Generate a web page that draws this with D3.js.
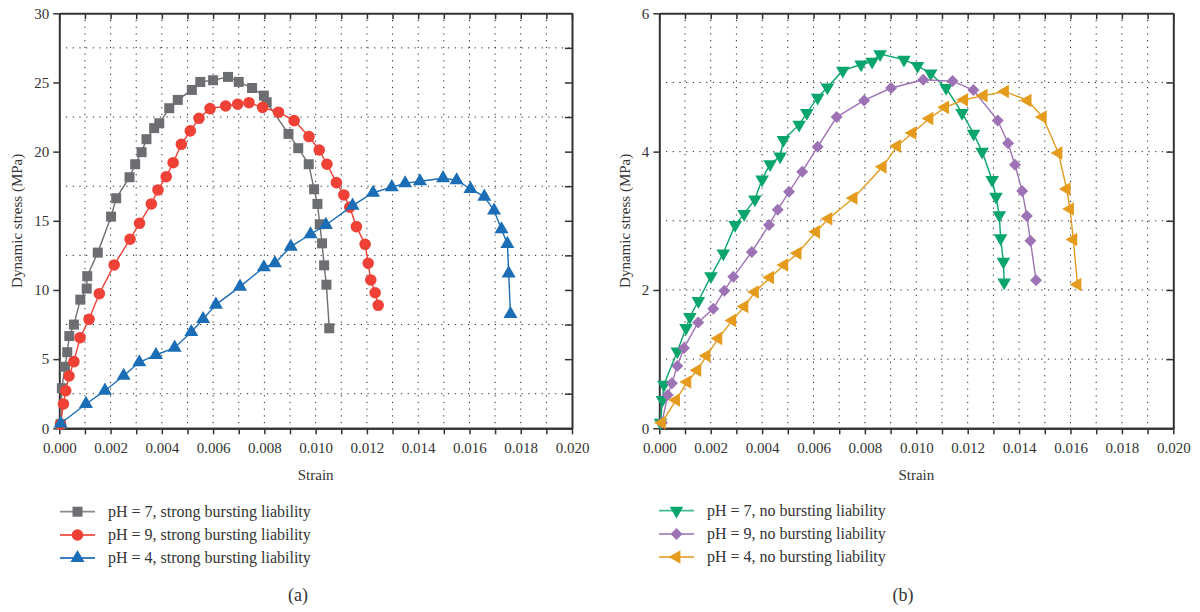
<!DOCTYPE html>
<html><head><meta charset="utf-8">
<script src="https://cdn.jsdelivr.net/npm/d3@7"></script>
<style>
body{margin:0;background:#fff;}
text{font-family:"Liberation Serif","DejaVu Serif",serif;fill:#333;}
</style></head>
<body><svg id="c" width="1200" height="612"></svg>
<script>
// ---- Data: panel (a) strong bursting liability ----
const aPH7Strain = [0.00005,0.0001,0.00022,0.00031,0.00039,0.00057,0.00082,0.00107,0.00109,0.0015,0.00202,0.00222,0.00274,0.00296,0.00321,0.0034,0.0037,0.0039,0.00429,0.00462,0.00517,0.0055,0.006,0.00658,0.007,0.00752,0.00798,0.00809,0.00894,0.00932,0.00973,0.00994,0.01007,0.01016,0.01025,0.01033,0.01042,0.01053];
const aPH7Stress = [0.3,2.9,4.45,5.5,6.67,7.5,9.3,10.1,11.0,12.7,15.3,16.63,18.15,19.09,19.96,20.9,21.7,22.05,23.14,23.74,24.46,25.04,25.16,25.4,25.04,24.6,24.05,23.57,21.28,20.25,19.09,17.28,16.22,14.75,13.37,11.78,10.38,7.23];
const aPH9Strain = [0.00005,0.00016,0.00025,0.00038,0.00057,0.00081,0.00116,0.00156,0.00214,0.00276,0.00313,0.00359,0.00385,0.00417,0.00444,0.00476,0.00511,0.00545,0.00588,0.00649,0.00696,0.0074,0.00793,0.00855,0.00916,0.00974,0.01014,0.01044,0.01081,0.0111,0.01133,0.01159,0.01193,0.01205,0.01215,0.01232,0.01244];
const aPH9Stress = [0.3,1.76,2.72,3.78,4.82,6.55,7.88,9.73,11.81,13.67,14.82,16.22,17.23,18.19,19.2,20.53,21.5,22.41,23.11,23.3,23.43,23.54,23.2,22.85,22.24,21.09,20.12,19.09,17.76,16.87,15.98,14.58,13.3,11.93,10.72,9.8,8.89];
const aPH4Strain = [0.00005,0.00104,0.00178,0.00251,0.00312,0.00377,0.0045,0.00515,0.00561,0.00611,0.00705,0.00798,0.00841,0.00903,0.0098,0.0104,0.01144,0.01224,0.01297,0.01349,0.01407,0.01497,0.0155,0.01604,0.01658,0.01696,0.01725,0.01748,0.01753,0.0176];
const aPH4Stress = [0.35,1.76,2.72,3.8,4.77,5.3,5.83,6.96,7.9,8.94,10.24,11.64,11.93,13.13,14.03,14.7,16.1,17.03,17.43,17.71,17.86,18.08,17.93,17.3,16.75,15.74,14.39,13.33,11.2,8.26];
// ---- Data: panel (b) no bursting liability ----
const bPH7Strain = [0.00005,0.00012,0.00018,0.0007,0.00104,0.00119,0.00152,0.00201,0.00249,0.00295,0.0033,0.00372,0.004,0.00431,0.0047,0.00483,0.00544,0.00574,0.00616,0.00654,0.00714,0.00785,0.00828,0.00859,0.00952,0.01005,0.01056,0.01116,0.01178,0.01223,0.01256,0.01295,0.0131,0.01323,0.01328,0.01339,0.01342];
const bPH7Stress = [0.08,0.41,0.63,1.11,1.45,1.61,1.84,2.2,2.53,2.94,3.1,3.31,3.6,3.82,3.93,4.17,4.39,4.56,4.78,4.93,5.17,5.26,5.3,5.41,5.33,5.24,5.13,4.92,4.56,4.26,4.0,3.59,3.35,3.08,2.75,2.41,2.11];
const bPH9Strain = [0.0001,0.00033,0.00049,0.0007,0.00096,0.00151,0.0021,0.00253,0.00288,0.0036,0.00427,0.00461,0.00505,0.00556,0.00616,0.0069,0.00797,0.00902,0.01027,0.01141,0.01222,0.01317,0.01357,0.01384,0.01412,0.0143,0.01444,0.01466];
const bPH9Stress = [0.08,0.48,0.65,0.9,1.16,1.53,1.73,1.99,2.19,2.55,2.94,3.16,3.42,3.71,4.07,4.5,4.74,4.92,5.04,5.02,4.89,4.45,4.12,3.81,3.43,3.07,2.71,2.14];
const bPH4Strain = [0.0001,0.00065,0.00109,0.00148,0.00184,0.0023,0.00284,0.00331,0.00372,0.00431,0.00486,0.00538,0.0061,0.00658,0.00756,0.00869,0.00925,0.00985,0.01051,0.01112,0.01186,0.01262,0.01345,0.01433,0.01492,0.01553,0.01585,0.01598,0.01611,0.01627];
const bPH4Stress = [0.08,0.41,0.67,0.84,1.05,1.3,1.56,1.76,1.97,2.18,2.36,2.53,2.84,3.03,3.33,3.78,4.08,4.27,4.48,4.64,4.75,4.81,4.87,4.74,4.5,3.98,3.46,3.17,2.73,2.08];

const xTickLabels = ["0.000","0.002","0.004","0.006","0.008","0.010","0.012","0.014","0.016","0.018","0.020"];
const aYTicks = [0,5,10,15,20,25,30];
const bYTicks = [0,2,4,6];
const aNames = ["pH = 7, strong bursting liability","pH = 9, strong bursting liability","pH = 4, strong bursting liability"];
const bNames = ["pH = 7, no bursting liability","pH = 9, no bursting liability","pH = 4, no bursting liability"];

const svg = d3.select("#c");
const AX = "#333";

function makeSym(kind){
  if(kind==="square") return {path:d3.symbol(d3.symbolSquare,100)(), rot:0};
  if(kind==="circle") return {path:d3.symbol(d3.symbolCircle,105)(), rot:0};
  if(kind==="up") return {path:d3.symbol(d3.symbolTriangle,85)(), rot:0};
  if(kind==="down") return {path:d3.symbol(d3.symbolTriangle,80)(), rot:180};
  if(kind==="left") return {path:d3.symbol(d3.symbolTriangle,80)(), rot:-90};
  if(kind==="diamond") return {path:d3.symbol(d3.symbolSquare,72)(), rot:45};
}

function panel(cfg){
  const {x0,x1,y0,y1,ymax,yTicks,gridY,rightTicks,series,names,label,labelX,legX,legY} = cfg;
  const x = d3.scaleLinear().domain([0,0.02]).range([x0,x1]);
  const y = d3.scaleLinear().domain([0,ymax]).range([y1,y0]);
  const g = svg.append("g");
  const minor = d3.range(1,20).map(i=>i*0.001);
  // grid
  g.selectAll(".vg").data(minor).enter().append("line")
    .attr("x1",d=>x(d)).attr("x2",d=>x(d)).attr("y1",y0).attr("y2",y1)
    .attr("stroke","#222").attr("stroke-width",1).attr("stroke-dasharray","1.2,5.5");
  g.selectAll(".hg").data(gridY).enter().append("line")
    .attr("x1",x0).attr("x2",x1).attr("y1",d=>y(d)).attr("y2",d=>y(d))
    .attr("stroke","#222").attr("stroke-width",1).attr("stroke-dasharray","1.2,5.5");
  // axes
  const bottom = g.append("g").attr("transform",`translate(0,${y1})`)
    .call(d3.axisBottom(x).tickValues(xTickLabels.map(Number)).tickFormat((d,i)=>xTickLabels[i]).tickSize(0).tickPadding(14));
  const bottomMinor = g.append("g").attr("transform",`translate(0,${y1})`)
    .call(d3.axisBottom(x).tickValues(d3.range(0,21).map(i=>i*0.001)).tickFormat("").tickSizeInner(6).tickSizeOuter(0));
  const top = g.append("g").attr("transform",`translate(0,${y0})`)
    .call(d3.axisBottom(x).tickValues(d3.range(0,21).map(i=>i*0.001)).tickFormat("").tickSizeInner(6).tickSizeOuter(0));
  const left = g.append("g").attr("transform",`translate(${x0},0)`)
    .call(d3.axisLeft(y).tickValues(yTicks).tickFormat(d3.format("d")).tickSizeInner(6).tickSizeOuter(0).tickPadding(4));
  const right = g.append("g").attr("transform",`translate(${x1},0)`)
    .call(d3.axisLeft(y).tickValues(rightTicks).tickFormat("").tickSizeInner(7).tickSizeOuter(0));
  [bottom,bottomMinor,top,left,right].forEach(a=>{
    a.select(".domain").attr("stroke",AX).attr("stroke-width",2);
    a.selectAll(".tick line").attr("stroke",AX).attr("stroke-width",1.5);
    a.selectAll("text").attr("font-size",15).attr("fill","#333").style("font-family","'Liberation Serif',serif");
  });
  // axis titles
  g.append("text").attr("x",(x0+x1)/2).attr("y",y1+52).attr("text-anchor","middle").attr("font-size",15).text("Strain");
  g.append("text").attr("transform",`translate(${labelX},${(y0+y1)/2}) rotate(-90)`).attr("text-anchor","middle").attr("dy","0.35em").attr("font-size",15).text("Dynamic stress (MPa)");
  // series
  const line = d3.line().x(d=>x(d[0])).y(d=>y(d[1]));
  series.forEach(s=>{
    const pts = s.sx.map((v,i)=>[v,s.sy[i]]);
    g.append("path").datum(pts).attr("d",line).attr("fill","none").attr("stroke",s.color).attr("stroke-width",1.4);
    const sym = makeSym(s.kind);
    g.selectAll(null).data(pts).enter().append("path").attr("d",sym.path)
      .attr("transform",d=>`translate(${x(d[0])},${y(d[1])}) rotate(${sym.rot})`)
      .attr("fill",s.color);
  });
  // legend
  series.forEach((s,i)=>{
    const ly = legY[i];
    g.append("line").attr("x1",legX).attr("x2",legX+35).attr("y1",ly).attr("y2",ly).attr("stroke",s.lcolor).attr("stroke-width",1.8);
    const sym = makeSym(s.kind);
    g.append("path").attr("d",sym.path).attr("transform",`translate(${legX+17.5},${ly}) rotate(${sym.rot})`).attr("fill",s.color);
    g.append("text").attr("x",legX+48).attr("y",ly).attr("dy","0.33em").attr("font-size",16).text(names[i]);
  });
  g.append("text").attr("x",cfg.capX).attr("y",601).attr("text-anchor","middle").attr("font-size",18).text(label);
}

panel({x0:59.3,x1:572,y0:13.3,y1:428.3,ymax:30,yTicks:aYTicks,gridY:[2.5,7.5,12.5,17.5,22.5,27.5],
  rightTicks:d3.range(1,12).map(i=>i*2.5),labelX:17,legX:60,legY:[511.7,535,558],capX:298,label:"(a)",
  names:aNames,
  series:[
    {sx:aPH7Strain,sy:aPH7Stress,color:"#6d6e71",lcolor:"#8a8b8d",kind:"square"},
    {sx:aPH9Strain,sy:aPH9Stress,color:"#ef4136",lcolor:"#f06158",kind:"circle"},
    {sx:aPH4Strain,sy:aPH4Stress,color:"#1b6db5",lcolor:"#3a80c0",kind:"up"}
  ]});
panel({x0:659.3,x1:1173.3,y0:13.3,y1:428.3,ymax:6,yTicks:bYTicks,gridY:[1,2,3,4,5],
  rightTicks:[1,2,3,4,5],labelX:625,legX:659,legY:[510.7,534,557],capX:903,label:"(b)",
  names:bNames,
  series:[
    {sx:bPH7Strain,sy:bPH7Stress,color:"#0aa56c",lcolor:"#45bb8f",kind:"down"},
    {sx:bPH9Strain,sy:bPH9Stress,color:"#9e73b5",lcolor:"#b292c5",kind:"diamond"},
    {sx:bPH4Strain,sy:bPH4Stress,color:"#e49b1e",lcolor:"#eab04f",kind:"left"}
  ]});
</script></body></html>
